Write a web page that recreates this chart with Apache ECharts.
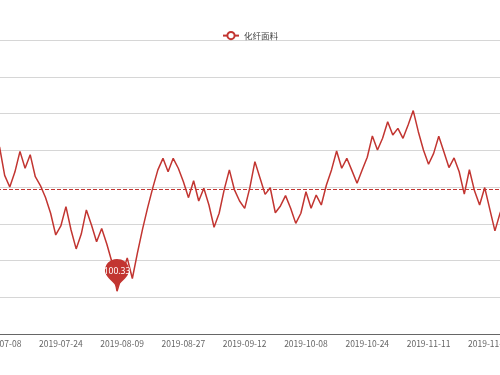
<!DOCTYPE html>
<html><head><meta charset="utf-8">
<script src="https://cdn.jsdelivr.net/npm/echarts@6/dist/echarts.min.js"></script>
<style>html,body{margin:0;padding:0;overflow:hidden;background:#fff}#c{width:500px;height:375px}</style>
</head><body><div id="c"></div><script>
const seriesName = '化纤面料';
const dates = [
'2019-07-08','2019-07-09','2019-07-10','2019-07-11','2019-07-12',
'2019-07-15','2019-07-16','2019-07-17','2019-07-18','2019-07-19',
'2019-07-22','2019-07-23','2019-07-24','2019-07-25','2019-07-26',
'2019-07-29','2019-07-30','2019-07-31','2019-08-01','2019-08-02',
'2019-08-05','2019-08-06','2019-08-07','2019-08-08','2019-08-09',
'2019-08-12','2019-08-13','2019-08-14','2019-08-15','2019-08-16',
'2019-08-19','2019-08-20','2019-08-21','2019-08-22','2019-08-23',
'2019-08-26','2019-08-27','2019-08-28','2019-08-29','2019-08-30',
'2019-09-02','2019-09-03','2019-09-04','2019-09-05','2019-09-06',
'2019-09-09','2019-09-10','2019-09-11','2019-09-12',
'2019-09-16','2019-09-17','2019-09-18','2019-09-19','2019-09-20',
'2019-09-23','2019-09-24','2019-09-25','2019-09-26','2019-09-27',
'2019-09-30',
'2019-10-08','2019-10-09','2019-10-10','2019-10-11',
'2019-10-14','2019-10-15','2019-10-16','2019-10-17','2019-10-18',
'2019-10-21','2019-10-22','2019-10-23','2019-10-24','2019-10-25',
'2019-10-28','2019-10-29','2019-10-30','2019-10-31','2019-11-01',
'2019-11-04','2019-11-05','2019-11-06','2019-11-07','2019-11-08',
'2019-11-11','2019-11-12','2019-11-13','2019-11-14','2019-11-15',
'2019-11-18','2019-11-19','2019-11-20','2019-11-21','2019-11-22',
'2019-11-25','2019-11-26','2019-11-27','2019-11-28','2019-11-29',
'2019-12-02'
];
const values = [
108.18,106.63,106.00,106.81,107.94,107.02,107.76,106.56,106.08,105.43,
104.57,103.39,103.88,104.93,103.66,102.63,103.44,104.75,103.93,103.02,
103.74,102.90,101.92,100.33,101.27,102.14,101.02,102.41,103.71,104.88,
105.95,106.93,107.56,106.83,107.56,107.02,106.29,105.42,106.34,105.24,
105.93,105.02,103.81,104.57,105.87,106.93,105.84,105.24,104.84,105.95,
107.38,106.49,105.60,105.96,104.60,104.97,105.53,104.84,104.02,104.57,
105.74,104.84,105.56,105.02,106.11,106.93,107.96,107.02,107.56,106.89,
106.20,106.93,107.62,108.78,108.01,108.65,109.55,108.83,109.19,108.65,
109.37,110.16,109.01,108.01,107.24,107.83,108.76,107.92,107.06,107.58,
106.83,105.61,106.94,105.79,105.02,105.97,104.78,103.61,104.57,105.29
];
const yMin = 98, yMax = 114, yInterval = 2;
const red = '#c23531';
const chart = echarts.init(document.getElementById('c'), null, {renderer:'canvas'});
chart.setOption({
  animation:false,
  backgroundColor:'#fff',
  legend:{
    data:[seriesName], top:26, left:'center',
    itemWidth:16, itemHeight:9, itemGap:7,
    textStyle:{fontSize:8.5, color:'#444', fontFamily:'Noto Sans CJK SC'}
  },
  grid:{left:-3, right:-7.7, top:40, bottom:41, containLabel:false, outerBoundsMode:'none'},
  xAxis:{
    type:'category', data:dates, boundaryGap:true,
    axisLine:{lineStyle:{color:'#666', width:1}},
    axisTick:{length:4, interval:11, lineStyle:{color:'#666'}},
    axisLabel:{interval:11, fontSize:8.5, color:'#666', margin:6, fontFamily:'Noto Sans CJK SC', hideOverlap:false}
  },
  yAxis:{
    type:'value', min:yMin, max:yMax, interval:yInterval,
    axisLine:{show:false}, axisTick:{show:false},
    axisLabel:{fontSize:8.5, color:'#666'},
    splitLine:{lineStyle:{color:'#d6d6d6', width:1}}
  },
  series:[{
    name:seriesName, type:'line', data:values,
    symbol:'emptyCircle', showSymbol:false,
    lineStyle:{color:red, width:1.5}, itemStyle:{color:red},
    markPoint:{
      symbol:'pin', symbolSize:[40,37],
      itemStyle:{color:red},
      label:{color:'#fff', fontSize:8.5, fontFamily:'Noto Sans'},
      data:[{type:'min', name:'最小值'}]
    },
    markLine:{
      symbol:'none', silent:true,
      lineStyle:{color:red, type:'dashed', width:1, opacity:1},
      emphasis:{disabled:true},
      label:{show:false},
      data:[{type:'average', name:'平均值', lineStyle:{color:red}}]
    }
  }]
});
</script></body></html>
